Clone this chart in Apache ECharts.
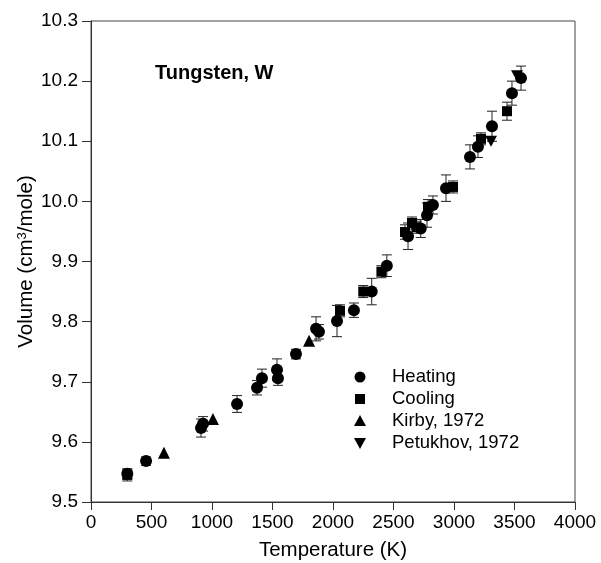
<!DOCTYPE html>
<html><head><meta charset="utf-8">
<script src="https://cdn.jsdelivr.net/npm/echarts@6/dist/echarts.min.js"></script>
<style>html,body{margin:0;padding:0;background:#fff}#c{width:601px;height:563px}</style>
</head><body><div id="c"></div>
<script>
// ---- data ----
const heatingT = [300, 455, 909, 926, 1207, 1372, 1413, 1537, 1545, 1694, 1860, 1884, 2033, 2173, 2320, 2445, 2620, 2725, 2777, 2826, 2934, 3132, 3198, 3314, 3479, 3554];
const heatingV = [9.547, 9.568, 9.623, 9.630, 9.663, 9.690, 9.706, 9.720, 9.706, 9.746, 9.788, 9.783, 9.801, 9.819, 9.850, 9.893, 9.942, 9.955, 9.977, 9.994, 10.022, 10.074, 10.091, 10.125, 10.180, 10.205];
const heatingErr = [0.008, 0.007, 0.015, 0.012, 0.014, 0.012, 0.015, 0.018, 0.012, 0.008, 0.02, 0.012, 0.026, 0.012, 0.022, 0.018, 0.022, 0.015, 0.02, 0.015, 0.022, 0.02, 0.018, 0.025, 0.02, 0.02];
const coolingT = [300, 2058, 2250, 2400, 2595, 2653, 2690, 2785, 2992, 3223, 3438];
const coolingV = [9.545, 9.818, 9.850, 9.883, 9.949, 9.964, 9.957, 9.991, 10.024, 10.104, 10.150];
const coolingErr = [0.01, 0.01, 0.01, 0.01, 0.012, 0.01, 0.01, 0.012, 0.01, 0.01, 0.015];
const kirbyT = [603, 1008, 1802];
const kirbyV = [9.582, 9.638, 9.768];
const petukhovT = [3306, 3521];
const petukhovV = [10.100, 10.209];
const seriesNames = ['Heating', 'Cooling', 'Kirby, 1972', 'Petukhov, 1972'];
const xTickLabels = ['0', '500', '1000', '1500', '2000', '2500', '3000', '3500', '4000'];
const yTickLabels = ['9.5', '9.6', '9.7', '9.8', '9.9', '10.0', '10.1', '10.2', '10.3'];
const titleText = 'Tungsten, W';

// ---- chart ----
const FONT = '"Liberation Sans", Arial, Helvetica, sans-serif';
const INV_TRI = 'path://M0,0L2,0L1,1.732Z';
const chart = echarts.init(document.getElementById('c'), null, {renderer: 'canvas'});
const pts = (T, V) => T.map((t, i) => [t, V[i]]);
const errData = (T, V, E) => T.map((t, i) => [t, V[i] - E[i], V[i] + E[i]]);
function errSeries(data) {
  return {
    type: 'custom', data, z: 1, silent: true,
    encode: {x: 0, y: [1, 2]},
    renderItem(params, api) {
      const x = api.value(0);
      const lo = api.coord([x, api.value(1)]);
      const hi = api.coord([x, api.value(2)]);
      const w = 5;
      const style = {stroke: '#222', lineWidth: 1};
      return {type: 'group', children: [
        {type: 'line', shape: {x1: lo[0], y1: lo[1], x2: hi[0], y2: hi[1]}, style},
        {type: 'line', shape: {x1: lo[0] - w, y1: lo[1], x2: lo[0] + w, y2: lo[1]}, style},
        {type: 'line', shape: {x1: hi[0] - w, y1: hi[1], x2: hi[0] + w, y2: hi[1]}, style}
      ]};
    }
  };
}
const xMin = +xTickLabels[0], xMax = +xTickLabels[xTickLabels.length - 1];
const yMin = +yTickLabels[0], yMax = +yTickLabels[yTickLabels.length - 1];
const axisCommon = {
  axisLine: {show: true, lineStyle: {color: '#333', width: 1}},
  splitLine: {show: false},
  nameLocation: 'middle',
  nameMoveOverlap: false,
};
const legendY = [377, 399, 421, 443];
const legendX = 360, legendTextX = 392;
const graphics = [
  {type: 'circle', shape: {cx: legendX, cy: legendY[0], r: 5.5}, style: {fill: '#000'}},
  {type: 'rect', shape: {x: legendX - 5, y: legendY[1] - 5, width: 10, height: 10}, style: {fill: '#000'}},
  {type: 'polygon', shape: {points: [[legendX - 6, legendY[2] + 5], [legendX + 6, legendY[2] + 5], [legendX, legendY[2] - 6]]}, style: {fill: '#000'}},
  {type: 'polygon', shape: {points: [[legendX - 6, legendY[3] - 5], [legendX + 6, legendY[3] - 5], [legendX, legendY[3] + 6]]}, style: {fill: '#000'}},
];
seriesNames.forEach((n, i) => graphics.push({
  type: 'text', x: legendTextX, y: legendY[i],
  style: {text: n, font: '18.5px ' + FONT, fill: '#000', textVerticalAlign: 'middle', verticalAlign: 'middle'}
}));
chart.setOption({
  animation: false,
  backgroundColor: '#fff',
  title: {text: titleText, left: 155, top: 63, padding: 0,
    textStyle: {fontFamily: FONT, fontSize: 20, fontWeight: 'bold', color: '#000'}},
  grid: {left: 91, right: 26, top: 21, bottom: 61, show: true, borderColor: '#444', borderWidth: 1,
    backgroundColor: 'transparent', containLabel: false, outerBoundsMode: 'none'},
  xAxis: Object.assign({}, axisCommon, {
    type: 'value', min: xMin, max: xMax, interval: 500,
    name: 'Temperature (K)', nameGap: 38,
    nameTextStyle: {fontFamily: FONT, fontSize: 20.5, color: '#000'},
    axisTick: {show: true, length: 8, lineStyle: {color: '#333'}},
    axisLabel: {margin: 11, fontFamily: FONT, fontSize: 19, color: '#000',
      formatter: v => xTickLabels[Math.round((v - xMin) / 500)]}
  }),
  yAxis: Object.assign({}, axisCommon, {
    type: 'value', min: yMin, max: yMax, interval: 0.1,
    name: 'Volume (cm{sup|3}/mole)', nameGap: 54,
    nameTextStyle: {fontFamily: FONT, fontSize: 20.5, color: '#000',
      rich: {sup: {fontFamily: FONT, fontSize: 13, verticalAlign: 'top', color: '#000', padding: [0, 0, 8, 0]}}},
    axisTick: {show: true, length: 9, lineStyle: {color: '#333'}},
    axisLabel: {margin: 13, fontFamily: FONT, fontSize: 19, color: '#000',
      formatter: v => yTickLabels[Math.round((v - yMin) / 0.1)]}
  }),
  series: [
    errSeries(errData(heatingT, heatingV, heatingErr)),
    errSeries(errData(coolingT, coolingV, coolingErr)),
    {name: seriesNames[0], type: 'scatter', z: 3, symbol: 'circle', symbolSize: 12, itemStyle: {color: '#000', opacity: 1}, data: pts(heatingT, heatingV)},
    {name: seriesNames[1], type: 'scatter', z: 3, symbol: 'rect', symbolSize: 10, itemStyle: {color: '#000', opacity: 1}, data: pts(coolingT, coolingV)},
    {name: seriesNames[2], type: 'scatter', z: 3, symbol: 'triangle', symbolSize: 12, itemStyle: {color: '#000', opacity: 1}, data: pts(kirbyT, kirbyV)},
    {name: seriesNames[3], type: 'scatter', z: 3, symbol: INV_TRI, symbolSize: [12, 11], itemStyle: {color: '#000', opacity: 1}, data: pts(petukhovT, petukhovV)}
  ],
  graphic: graphics
});
</script></body></html>
